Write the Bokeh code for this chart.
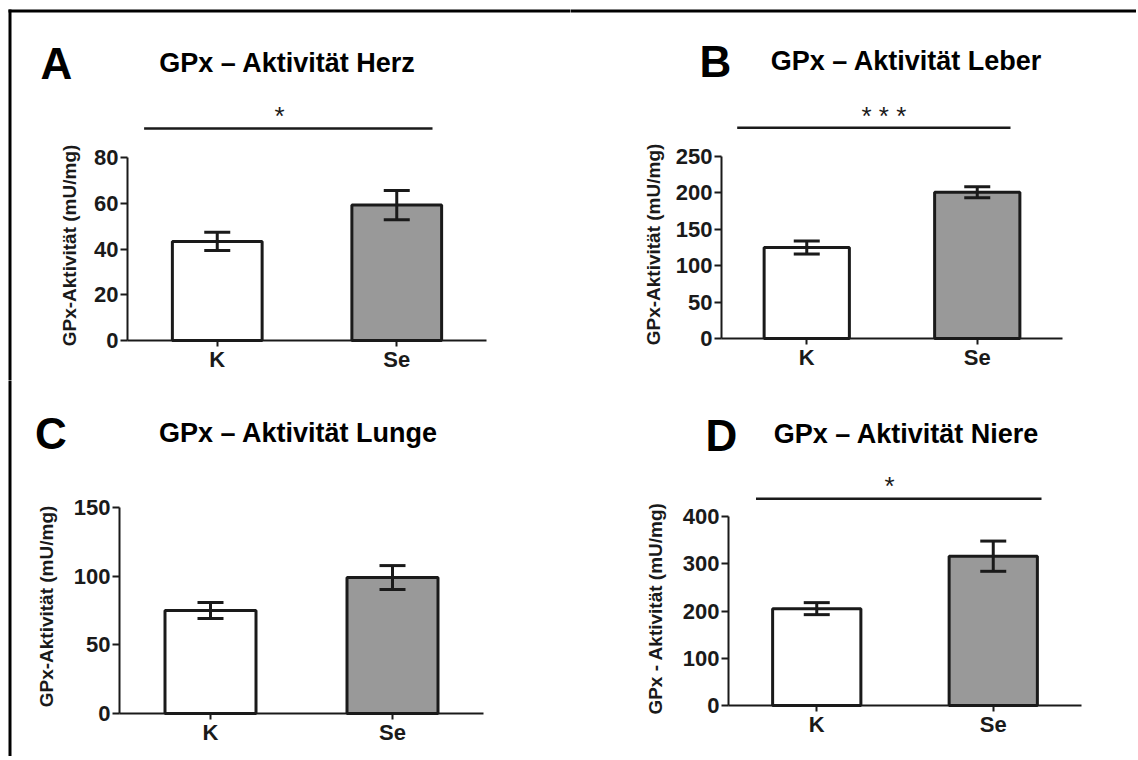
import math
from bokeh.plotting import figure
from bokeh.models import ColumnDataSource, Whisker, TeeHead, Label, FixedTicker, Range1d
from bokeh.layouts import row, column
from bokeh.embed import file_html
from bokeh.resources import INLINE
from bokeh.core.properties import value

# ---------------- data ----------------
groups = ["K", "Se"]
letters = ["A", "B", "C", "D"]
titles = ["GPx – Aktivität Herz", "GPx – Aktivität Leber",
          "GPx – Aktivität Lunge", "GPx – Aktivität Niere"]
ylabels = ["GPx-Aktivität (mU/mg)", "GPx-Aktivität (mU/mg)",
           "GPx-Aktivität (mU/mg)", "GPx - Aktivität (mU/mg)"]

herz_mean = [43.3, 59.2]
herz_sem = [4.0, 6.4]
leber_mean = [125.0, 201.0]
leber_sem = [9.0, 7.5]
lunge_mean = [75.0, 99.0]
lunge_sem = [5.8, 8.7]
niere_mean = [205.0, 316.0]
niere_sem = [12.7, 32.0]

ticks_herz = [0, 20, 40, 60, 80]
ticks_leber = [0, 50, 100, 150, 200, 250]
ticks_lunge = [0, 50, 100, 150]
ticks_niere = [0, 100, 200, 300, 400]

significance = ["*", "* * *", "", "*"]
bar_colors = ["#ffffff", "#999999"]

# ---------------- layout (page pixels) ----------------
FONT = "Liberation Sans"
INK = "#1a1a1a"
STAR_SIZE = 26
STAR_DROP = 5          # baseline sits this far below the visual centre of "*"
PAGE_X, PAGE_Y = 8, 9  # page offset of the layout

layouts = [
    dict(fig=(8, 9, 562, 371), ax=(127, 486), ay=(340, 157),
         title=(287, 62), letter=(40, 63), ylab=(69, 245),
         sig=(143.6, 432, 128), star=(279, 110), border=("left", "top")),
    dict(fig=(570, 9, 566, 371), ax=(721, 1062), ay=(338, 156),
         title=(906, 60), letter=(699, 61), ylab=(653, 244),
         sig=(736.7, 1010, 127.3), star=(883.4, 110), border=("top",)),
    dict(fig=(8, 380, 562, 376), ax=(119, 483), ay=(713, 507),
         title=(298, 432), letter=(34.5, 433), ylab=(45.5, 606),
         sig=None, star=None, border=("left",)),
    dict(fig=(570, 380, 566, 376), ax=(728, 1081), ay=(705, 516),
         title=(906, 433), letter=(705, 435), ylab=(655, 608),
         sig=(755.5, 1041, 498.3), star=(889, 480), border=()),
]


def make_panel(i, means, sems, ticks):
    L = layouts[i]
    ox, oy, W, H = L["fig"]
    al, ar = L["ax"]
    yb, yt = L["ay"]
    ymax = ticks[-1]
    ppu = (yb - yt) / ymax
    # category centres sit at 1/4 and 3/4 of the x-axis
    cK = al + 0.25 * (ar - al)
    step = 0.5 * (ar - al)

    def dx(px):
        return (px - cK) / step

    def dy(py):
        return (yb - py) / ppu

    p = figure(width=W, height=H, title=None,
               x_range=Range1d(dx(ox), dx(ox + W)),
               y_range=Range1d(dy(oy + H), dy(oy)),
               output_backend="svg", toolbar_location=None,
               min_border_left=0, min_border_right=0,
               min_border_top=0, min_border_bottom=0)
    p.grid.visible = False
    p.outline_line_color = None
    p.background_fill_color = "white"
    p.border_fill_color = "white"

    # page frame (top / left): a wide line centred on the figure edge, half clipped
    if "left" in L["border"]:
        p.segment(x0=[dx(ox)], y0=[dy(oy - 10)], x1=[dx(ox)], y1=[dy(oy + H + 10)],
                  line_color="black", line_width=6)
    if "top" in L["border"]:
        p.segment(x0=[dx(ox - 10)], y0=[dy(oy)], x1=[dx(ox + W + 10)], y1=[dy(oy)],
                  line_color="black", line_width=6)

    xpos = list(range(len(groups)))
    src = ColumnDataSource(dict(
        x=xpos, mean=means,
        upper=[m + s for m, s in zip(means, sems)],
        lower=[m - s for m, s in zip(means, sems)],
        color=bar_colors))
    p.vbar(x="x", top="mean", bottom=0, width=0.5, source=src,
           fill_color="color", line_color=INK, line_width=3)
    w = Whisker(source=src, base="x", upper="upper", lower="lower",
                line_color=INK, line_width=3, level="annotation",
                upper_head=TeeHead(size=26, line_color=INK, line_width=3),
                lower_head=TeeHead(size=26, line_color=INK, line_width=3))
    p.add_layout(w)

    if L["sig"] is not None:
        x0, x1, sy = L["sig"]
        p.segment(x0=[dx(x0)], y0=[dy(sy)], x1=[dx(x1)], y1=[dy(sy)],
                  line_color=INK, line_width=2.5)
        sx, sty = L["star"]
        p.text(x=[dx(sx)], y=[dy(sty + STAR_DROP)], text=[significance[i]],
               text_font=value(FONT), text_font_size=f"{STAR_SIZE}px", text_color=INK,
               text_align="center", text_baseline="alphabetic")

    tx, ty = L["title"]
    p.add_layout(Label(x=dx(tx), y=dy(ty), text=titles[i], text_font=FONT,
                       text_font_style="bold", text_font_size="27px",
                       text_color="black", text_align="center", text_baseline="middle"))
    lx, ly = L["letter"]
    p.add_layout(Label(x=dx(lx), y=dy(ly), text=letters[i], text_font=FONT,
                       text_font_style="bold", text_font_size="44px",
                       text_color="black", text_align="left", text_baseline="middle"))
    vx, vy = L["ylab"]
    p.add_layout(Label(x=dx(vx), y=dy(vy), text=ylabels[i], text_font=FONT,
                       text_font_style="bold", text_font_size="19px", angle=math.pi / 2,
                       text_color=INK, text_align="center", text_baseline="middle"))

    ya = p.yaxis[0]
    ya.ticker = FixedTicker(ticks=ticks)
    ya.bounds = (0, ymax)
    ya.fixed_location = dx(al)
    ya.minor_tick_line_color = None
    ya.major_tick_out = 7

    xa = p.xaxis[0]
    xa.ticker = FixedTicker(ticks=xpos)
    xa.major_label_overrides = {k: g for k, g in zip(xpos, groups)}
    xa.bounds = (dx(al), dx(ar))
    xa.fixed_location = 0
    xa.minor_tick_line_color = None
    xa.major_tick_out = 6

    for ax in (ya, xa):
        ax.axis_line_width = 2
        ax.axis_line_color = INK
        ax.major_tick_line_width = 2
        ax.major_tick_line_color = INK
        ax.major_tick_in = 0
        ax.major_label_text_font = FONT
        ax.major_label_text_font_style = "bold"
        ax.major_label_text_font_size = "22px"
        ax.major_label_text_color = INK
    ya.major_label_standoff = 2
    xa.major_label_standoff = 0
    return p


pA = make_panel(0, herz_mean, herz_sem, ticks_herz)
pB = make_panel(1, leber_mean, leber_sem, ticks_leber)
pC = make_panel(2, lunge_mean, lunge_sem, ticks_lunge)
pD = make_panel(3, niere_mean, niere_sem, ticks_niere)

layout = column(row(pA, pB), row(pC, pD), margin=(PAGE_Y, 0, 0, PAGE_X))

open("out.html", "w").write(file_html(layout, INLINE))
